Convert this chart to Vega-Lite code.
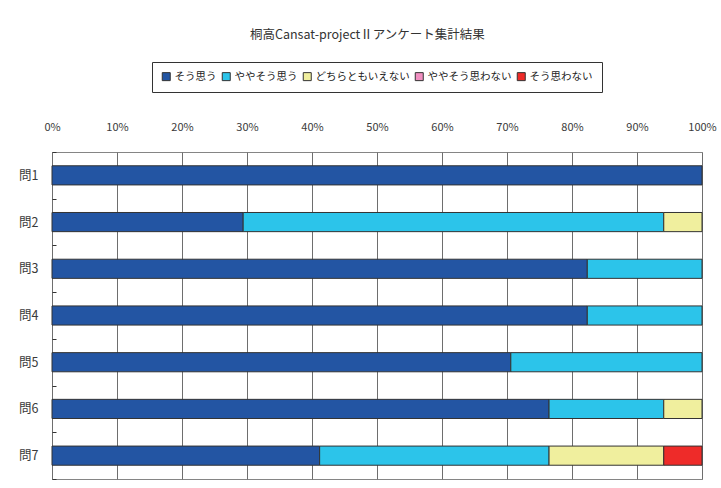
{
  "$schema": "https://vega.github.io/schema/vega-lite/v6.json",
  "width": 650,
  "height": 327,
  "autosize": {"type": "none"},
  "padding": {"left": 52, "top": 152, "right": 19, "bottom": 9},
  "background": "#ffffff",
  "title": {
    "text": "桐高Cansat-projectⅡアンケート集計結果",
    "fontSize": 12.5,
    "fontWeight": "normal",
    "font": "Noto Sans CJK JP",
    "color": "#333333",
    "anchor": "middle",
    "frame": "bounds",
    "offset": 20
  },
  "config": {
    "font": "Noto Sans CJK JP",
    "view": {"stroke": "#858585", "strokeWidth": 1}
  },
  "data": {
    "values": [
      {"q": "問1", "answer": "そう思う", "level": 5, "n": 17},
      {"q": "問2", "answer": "そう思う", "level": 5, "n": 5},
      {"q": "問2", "answer": "ややそう思う", "level": 4, "n": 11},
      {"q": "問2", "answer": "どちらともいえない", "level": 3, "n": 1},
      {"q": "問3", "answer": "そう思う", "level": 5, "n": 14},
      {"q": "問3", "answer": "ややそう思う", "level": 4, "n": 3},
      {"q": "問4", "answer": "そう思う", "level": 5, "n": 14},
      {"q": "問4", "answer": "ややそう思う", "level": 4, "n": 3},
      {"q": "問5", "answer": "そう思う", "level": 5, "n": 12},
      {"q": "問5", "answer": "ややそう思う", "level": 4, "n": 5},
      {"q": "問6", "answer": "そう思う", "level": 5, "n": 13},
      {"q": "問6", "answer": "ややそう思う", "level": 4, "n": 3},
      {"q": "問6", "answer": "どちらともいえない", "level": 3, "n": 1},
      {"q": "問7", "answer": "そう思う", "level": 5, "n": 7},
      {"q": "問7", "answer": "ややそう思う", "level": 4, "n": 6},
      {"q": "問7", "answer": "どちらともいえない", "level": 3, "n": 3},
      {"q": "問7", "answer": "そう思わない", "level": 1, "n": 1}
    ]
  },
  "mark": {"type": "bar", "height": {"band": 0.41}, "stroke": "#333333", "strokeWidth": 1},
  "encoding": {
    "y": {
      "field": "q",
      "type": "nominal",
      "sort": null,
      "scale": {"paddingInner": 0, "paddingOuter": 0},
      "axis": {
        "title": null,
        "domain": false,
        "ticks": true,
        "tickBand": "extent",
        "tickSize": -4,
        "tickColor": "#333333",
        "labelPadding": 18,
        "labelFontSize": 12.5,
        "labelColor": "#3a3a3a",
        "grid": false
      }
    },
    "x": {
      "field": "n",
      "type": "quantitative",
      "stack": "normalize",
      "scale": {"domain": [0, 1], "nice": false},
      "axis": {
        "orient": "top",
        "title": null,
        "format": ".0%",
        "values": [0, 0.1, 0.2, 0.3, 0.4, 0.5, 0.6, 0.7, 0.8, 0.9, 1],
        "domain": false,
        "ticks": false,
        "labelPadding": 20,
        "labelFontSize": 11,
        "labelColor": "#3a3a3a",
        "labelFlush": false,
        "grid": true,
        "gridColor": "#6e6e6e",
        "gridWidth": 1,
        "gridOpacity": 1
      }
    },
    "order": {"field": "level", "type": "quantitative", "sort": "descending"},
    "color": {
      "field": "answer",
      "type": "nominal",
      "sort": ["そう思う", "ややそう思う", "どちらともいえない", "ややそう思わない", "そう思わない"],
      "scale": {
        "domain": ["そう思う", "ややそう思う", "どちらともいえない", "ややそう思わない", "そう思わない"],
        "range": ["#2355a3", "#2cc4ea", "#f0ef9e", "#f18fc1", "#ee2b29"]
      },
      "legend": {
        "title": null,
        "orient": "none",
        "legendX": 100,
        "legendY": -90,
        "direction": "horizontal",
        "symbolType": "square",
        "symbolSize": 64,
        "symbolStrokeColor": "#333333",
        "symbolStrokeWidth": 1,
        "symbolOpacity": 1,
        "labelFontSize": 10.5,
        "labelColor": "#222222",
        "labelOffset": 3,
        "columnPadding": 3,
        "strokeColor": "#333333",
        "padding": 9,
        "fillColor": "#ffffff"
      }
    }
  }
}
